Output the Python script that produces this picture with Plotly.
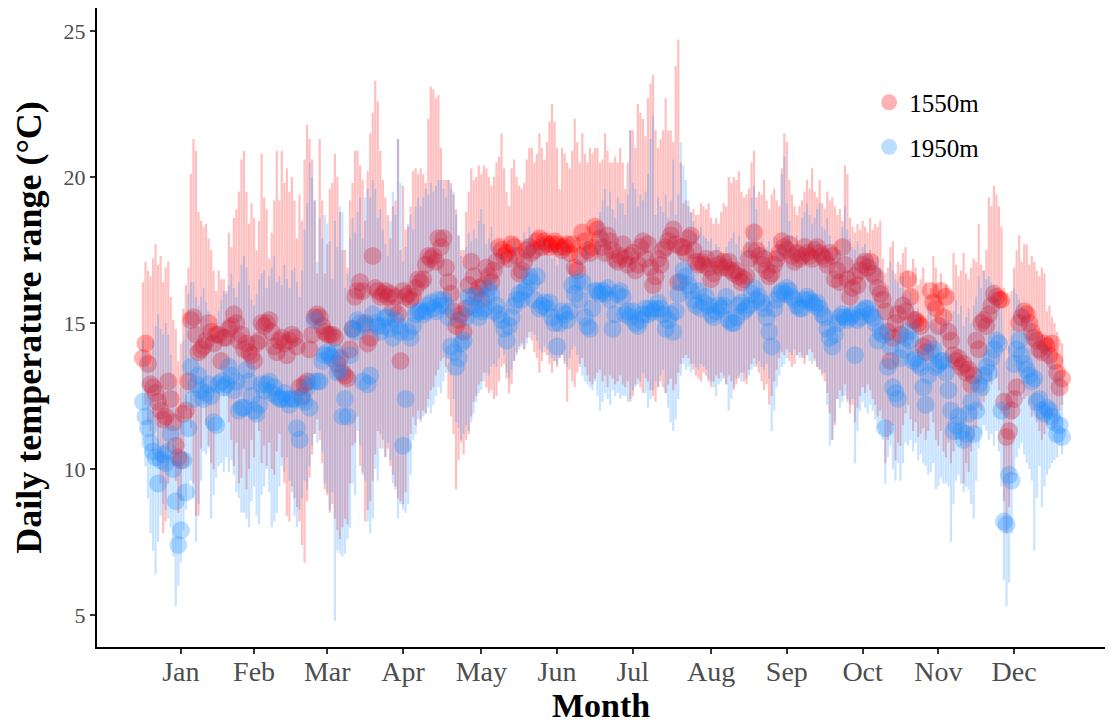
import plotly.graph_objects as go

# Month tick labels along the day-of-year axis
month_labels = ["Jan", "Feb", "Mar", "Apr", "May", "Jun",
                "Jul", "Aug", "Sep", "Oct", "Nov", "Dec"]
month_ticks = [16, 45, 74, 104, 135, 165, 195, 226, 256, 286, 316, 346]

# 1550 m station: daily mean temperature range and its lower / upper bounds
red_mean = [
    13.8, 14.3, 13.6, 12.9, 12.8, 12.6, 12.3, 12.0, 11.7, 11.8,
    13.0, 12.4, 11.6, 10.8, 10.4, 10.3, 11.9, 12.0, 13.0, 15.1,
    15.2, 14.6, 14.0, 14.1, 14.2, 14.4, 15.0, 14.7, 14.3, 14.6,
    14.6, 13.7, 14.5, 14.5, 14.8, 14.9, 15.3, 15.0, 14.4, 14.6,
    14.1, 14.3, 14.0, 13.9, 13.7, 14.3, 14.4, 15.0, 14.9, 15.0,
    15.1, 14.7, 14.2, 14.0, 14.4, 14.5, 14.3, 13.9, 14.4, 14.6,
    14.5, 14.2, 12.8, 12.5, 12.9, 13.0, 14.1, 14.6, 15.2, 15.3,
    15.2, 14.9, 14.7, 14.6, 14.6, 14.6, 14.5, 13.6, 13.8, 13.3,
    13.2, 13.1, 14.1, 14.8, 15.9, 16.1, 16.4, 16.1, 15.0, 14.3,
    14.5, 17.3, 16.2, 16.1, 15.9, 16.0, 16.1, 15.9, 16.0, 15.5,
    15.9, 15.3, 13.7, 16.1, 15.9, 16.0, 15.8, 15.9, 16.2, 16.5,
    16.4, 16.5, 17.0, 17.3, 17.2, 17.3, 17.1, 17.9, 17.6, 17.9,
    16.9, 16.4, 16.0, 15.4, 14.9, 15.1, 15.3, 14.7, 15.5, 16.3,
    17.1, 16.6, 16.0, 16.2, 15.8, 16.3, 16.9, 16.6, 16.4, 16.8,
    17.1, 17.6, 17.5, 17.3, 17.4, 17.2, 17.7, 17.6, 17.3, 16.7,
    16.8, 17.1, 17.5, 17.6, 17.4, 17.5, 17.8, 17.9, 17.6, 17.8,
    17.7, 17.6, 17.7, 17.8, 17.7, 17.6, 17.5, 17.6, 17.7, 17.4,
    17.7, 16.9, 16.8, 17.3, 18.1, 17.8, 17.5, 17.4, 17.6, 18.3,
    18.2, 17.9, 17.6, 17.4, 18.0, 17.8, 17.5, 17.2, 17.1, 17.3,
    17.7, 17.2, 17.0, 17.3, 17.4, 16.8, 17.0, 17.6, 17.8, 17.2,
    17.7, 16.9, 16.3, 16.6, 17.2, 17.0, 17.5, 17.6, 17.8, 18.0,
    18.2, 17.7, 16.4, 17.6, 17.6, 17.4, 17.9, 18.0, 17.5, 17.1,
    17.0, 17.1, 17.0, 17.2, 16.9, 16.5, 16.7, 17.2, 17.0, 16.9,
    17.1, 16.9, 17.1, 16.8, 16.7, 16.8, 16.6, 16.4, 16.5, 16.6,
    17.2, 17.5, 18.1, 17.5, 17.3, 17.0, 17.2, 16.8, 16.6, 16.7,
    17.0, 17.2, 17.4, 17.8, 17.6, 17.5, 17.7, 17.3, 17.1, 17.4,
    17.2, 17.3, 17.6, 17.4, 17.3, 17.2, 17.5, 17.6, 17.4, 17.3,
    17.2, 17.0, 17.4, 17.3, 16.5, 16.8, 16.4, 17.6, 17.0, 16.5,
    15.9, 16.2, 16.6, 16.3, 16.8, 17.0, 17.1, 16.9, 17.1, 16.7,
    16.6, 16.2, 16.0, 15.8, 15.4, 14.7, 13.7, 14.5, 15.0, 15.3,
    14.6, 15.6, 15.4, 16.5, 15.9, 15.1, 15.1, 15.0, 14.9, 14.2,
    14.0, 14.3, 16.1, 15.7, 15.5, 14.9, 16.1, 15.2, 15.9, 14.7,
    14.4, 13.9, 13.7, 13.8, 13.5, 13.6, 13.3, 13.4, 12.9, 13.2,
    14.4, 14.1, 15.0, 15.1, 14.9, 15.3, 15.6, 16.0, 15.9, 15.8,
    15.8, 12.3, 11.1, 11.3, 12.0, 12.4, 12.8, 15.0, 15.2, 15.4,
    15.3, 15.0, 14.7, 14.5, 14.4, 14.1, 14.0, 14.3, 14.2, 13.9,
    14.3, 13.7, 13.3, 12.8, 13.1,
]
red_low = [
    12.8, 12.2, 11.6, 11.3, 10.5, 11.8, 10.3, 9.5, 7.8, 8.2,
    9.5, 11.0, 10.1, 9.6, 8.5, 8.9, 10.7, 12.0, 12.6, 11.4,
    9.5, 8.4, 8.4, 10.7, 12.2, 11.5, 10.8, 10.2, 10.0, 11.8,
    11.8, 12.9, 12.5, 12.8, 11.6, 11.0, 10.1, 10.9, 9.5, 9.7,
    10.7, 9.3, 10.0, 11.0, 10.4, 11.7, 11.3, 10.2, 10.8, 10.1,
    10.9, 10.0, 9.8, 10.6, 11.2, 10.4, 9.5, 8.4, 8.2, 9.4,
    9.0, 8.7, 8.2, 7.4, 6.8, 8.9, 9.7, 10.5, 11.2, 11.7,
    11.0, 10.2, 9.3, 9.1, 8.5, 8.8, 8.3, 7.9, 7.6, 8.0,
    8.3, 8.1, 9.5, 10.8, 10.9, 11.8, 10.1, 9.8, 8.2, 8.6,
    8.9, 9.6, 10.5, 11.3, 10.7, 11.0, 10.4, 10.7, 10.1, 9.8,
    9.4, 9.0, 8.9, 8.8, 9.2, 10.6, 11.2, 11.8, 11.5, 12.0,
    11.7, 12.0, 11.9, 12.4, 12.7, 12.8, 13.2, 13.4, 13.7, 13.8,
    13.5, 12.4, 11.8, 11.2, 9.3, 10.3, 10.9, 10.5, 11.0, 11.2,
    11.8, 12.3, 12.5, 12.9, 13.0, 13.3, 12.8, 12.6, 12.7, 12.4,
    12.5, 13.0, 13.5, 13.6, 13.1, 12.6, 12.9, 13.7, 14.0, 14.2,
    14.3, 14.1, 14.5, 14.7, 14.4, 14.0, 13.8, 13.3, 13.7, 14.0,
    13.9, 13.6, 13.3, 13.7, 13.5, 13.8, 13.9, 13.6, 12.3, 13.4,
    13.0, 12.8, 13.3, 13.6, 13.8, 13.5, 13.2, 13.0, 12.9, 13.1,
    13.3, 13.4, 13.0, 13.2, 12.8, 13.2, 13.1, 12.9, 13.0, 13.2,
    12.9, 12.8, 13.0, 12.3, 12.5, 12.9, 13.1, 12.8, 12.6, 13.1,
    13.0, 12.7, 12.5, 12.3, 12.8, 13.0, 12.8, 12.6, 12.9, 13.1,
    12.7, 12.9, 13.3, 13.6, 13.8, 13.9, 13.8, 13.6, 13.4, 13.2,
    13.1, 13.0, 13.3, 13.2, 13.0, 12.8, 13.0, 13.2, 13.1, 13.3,
    13.1, 12.9, 13.2, 13.0, 12.7, 12.9, 13.1, 13.3, 13.0, 12.9,
    13.4, 13.6, 13.8, 13.5, 13.3, 13.0, 12.7, 12.9, 12.2, 12.5,
    13.0, 13.4, 13.8, 14.0, 13.9, 14.1, 13.7, 13.5, 13.6, 13.9,
    14.0, 13.8, 13.6, 13.9, 14.1, 14.0, 13.7, 13.5, 13.4, 13.2,
    13.0, 12.6, 11.9, 11.0, 11.5, 12.4, 12.7, 12.5, 12.9, 12.3,
    11.9, 12.2, 11.6, 12.1, 12.5, 12.8, 12.6, 12.9, 12.7, 12.4,
    12.2, 11.8, 12.0, 11.7, 10.2, 11.0, 11.2, 11.5, 10.3, 10.9,
    10.8, 11.5, 11.9, 12.2, 11.7, 11.3, 11.6, 11.1, 11.2, 11.4,
    11.0, 11.3, 12.0, 11.6, 11.0, 10.8, 11.3, 10.6, 10.4, 10.9,
    10.2, 10.6, 11.0, 11.3, 10.8, 9.5, 10.2, 9.9, 10.6, 11.0,
    11.4, 12.1, 12.0, 12.3, 12.5, 13.0, 12.9, 13.4, 13.1, 12.7,
    11.9, 8.9, 7.8, 8.7, 9.8, 11.7, 12.2, 12.6, 12.9, 12.4,
    12.5, 12.2, 11.8, 12.0, 11.6, 11.3, 11.0, 11.2, 11.5, 11.7,
    11.8, 11.4, 11.5, 12.0, 12.2,
]
red_high = [
    16.4, 17.1, 16.8, 16.6, 17.2, 17.7, 17.0, 17.3, 16.4, 16.9,
    17.1, 15.9, 15.1, 14.8, 13.7, 14.3, 15.5, 16.3, 16.9, 20.1,
    21.3, 20.9, 18.8, 18.5, 18.3, 18.4, 17.9, 17.5, 16.8, 16.1,
    16.8, 16.5, 16.5, 16.1, 18.1, 17.6, 18.6, 18.9, 19.5, 20.6,
    20.9, 19.5, 18.4, 19.1, 18.6, 17.5, 18.5, 20.8, 19.3, 18.9,
    17.2, 18.1, 19.2, 20.9, 19.2, 20.9, 19.8, 20.3, 19.5, 20.0,
    19.2, 17.9, 19.4, 18.5, 20.6, 21.8, 21.3, 20.6, 19.2, 16.7,
    21.3, 19.2, 16.7, 17.7, 19.6, 19.8, 20.8, 20.0, 18.8, 17.5,
    17.5, 16.9, 19.2, 19.8, 20.9, 20.9, 20.4, 19.9, 18.5, 20.2,
    21.5, 22.2, 23.3, 22.6, 20.9, 19.9, 19.3, 18.7, 17.9, 19.0,
    19.2, 21.3, 17.5, 19.7, 18.2, 18.3, 19.0, 20.2, 20.3, 20.1,
    20.3, 20.1, 19.8, 22.0, 23.1, 23.0, 22.7, 22.8, 21.0, 19.9,
    19.9, 19.9, 19.8, 19.4, 18.9, 18.0, 17.5, 17.5, 18.8, 19.5,
    20.3, 19.9, 20.0, 20.4, 20.1, 20.4, 20.3, 20.0, 19.7, 20.0,
    20.5, 20.7, 21.5, 20.3, 19.5, 19.0, 20.3, 20.6, 20.0, 19.7,
    19.6, 19.8, 20.6, 21.0, 21.0, 20.5, 20.8, 21.5, 21.0, 20.6,
    21.2, 21.9, 22.5, 21.9, 21.0, 19.6, 21.0, 20.8, 20.5, 20.3,
    20.9, 22.0, 21.2, 20.5, 21.5, 20.8, 20.5, 21.0, 20.8, 21.0,
    21.0, 20.5, 20.6, 21.5, 20.9, 20.5, 20.5, 20.7, 20.5, 21.0,
    20.5, 19.6, 20.5, 21.6, 21.6, 21.0, 22.5, 22.2, 22.0, 21.4,
    22.7, 23.2, 23.5, 21.6, 21.0, 21.3, 21.6, 22.7, 21.6, 21.6,
    21.2, 23.8, 24.7, 20.5, 19.1, 19.2, 19.0, 18.8, 18.9, 18.7,
    18.7, 19.1, 19.0, 18.9, 19.1, 18.6, 18.4, 18.6, 18.4, 18.8,
    19.1, 19.0, 20.0, 19.8, 20.0, 19.9, 20.2, 19.5, 19.3, 19.4,
    19.6, 20.5, 20.9, 19.3, 19.5, 19.4, 19.9, 19.2, 18.9, 19.4,
    19.6, 19.2, 19.0, 20.3, 21.5, 21.2, 19.9, 19.4, 19.0, 18.7,
    19.0, 19.2, 19.5, 19.9, 19.6, 20.3, 19.5, 19.3, 19.9, 19.1,
    18.9, 19.5, 19.2, 19.3, 19.0, 18.7, 18.9, 18.5, 20.4, 20.1,
    18.6, 18.3, 18.1, 18.4, 18.2, 18.5, 18.3, 18.1, 18.6, 18.2,
    18.4, 18.3, 18.5, 17.2, 16.7, 16.9, 17.6, 17.8, 16.7, 17.1,
    17.0, 17.4, 17.6, 16.8, 16.6, 17.2, 16.9, 16.3, 16.5, 16.9,
    16.4, 16.0, 16.2, 17.3, 16.9, 16.1, 16.7, 16.0, 16.3, 16.1,
    16.1, 17.4, 17.0, 16.6, 16.8, 17.4, 16.7, 16.5, 16.9, 17.2,
    17.1, 18.4, 17.0, 16.8, 17.5, 19.3, 19.0, 19.7, 19.4, 19.0,
    18.3, 16.2, 16.0, 15.8, 16.1, 16.9, 17.5, 18.0, 17.1, 17.7,
    17.7, 17.0, 17.3, 17.1, 16.8, 16.6, 16.9, 16.7, 15.4, 15.6,
    15.2, 15.0, 14.7, 14.1, 14.3,
]

# 1950 m station: daily mean temperature range and its lower / upper bounds
blue_mean = [
    12.3, 11.8, 11.4, 10.9, 10.6, 10.4, 9.5, 10.3, 10.5, 10.2,
    10.6, 11.2, 10.0, 8.9, 7.4, 7.9, 10.3, 9.2, 11.4, 13.5,
    12.4, 12.9, 13.2, 12.7, 12.4, 12.6, 12.9, 12.5, 11.6, 11.5,
    12.9, 13.0, 12.8, 12.9, 13.5, 13.2, 12.7, 13.0, 12.0, 12.1,
    12.1, 13.4, 13.0, 12.5, 12.0, 11.9, 12.2, 12.9, 12.7, 12.9,
    13.0, 12.6, 12.8, 12.5, 12.4, 12.4, 12.6, 12.4, 12.2, 12.4,
    12.4, 11.4, 11.0, 12.4, 12.3, 12.8, 12.1, 13.0, 15.1, 13.0,
    13.0, 13.7, 13.9, 14.0, 13.9, 13.8, 14.0, 13.3, 13.4, 11.8,
    12.4, 11.8, 13.9, 14.8, 14.7, 15.1, 15.0, 13.0, 14.9, 12.9,
    13.2, 15.3, 15.0, 14.9, 14.7, 14.9, 15.2, 15.2, 14.8, 14.5,
    15.1, 14.9, 14.7, 10.8, 12.4, 14.7, 14.5, 14.9, 15.3, 15.4,
    15.4, 15.3, 15.4, 15.6, 15.7, 15.5, 15.4, 15.8, 15.6, 15.8,
    15.6, 15.2, 14.2, 14.0, 13.5, 13.8, 14.3, 14.4, 15.2, 15.9,
    15.6, 15.9, 15.5, 15.2, 15.4, 15.5, 15.9, 16.2, 16.0, 15.4,
    15.6, 15.3, 15.1, 14.8, 14.4, 14.9, 15.2, 15.6, 15.8, 16.0,
    15.8, 16.1, 16.2, 16.6, 16.4, 15.8, 16.6, 15.5, 15.6, 15.7,
    15.5, 15.7, 15.2, 15.0, 14.2, 15.0, 15.4, 15.3, 15.1, 15.4,
    16.3, 16.0, 16.4, 15.8, 16.4, 15.2, 14.9, 14.8, 15.5, 16.1,
    16.1, 16.0, 16.1, 16.0, 16.2, 15.8, 14.8, 15.3, 16.0, 16.1,
    15.9, 15.3, 15.4, 15.2, 15.4, 15.0, 14.9, 15.1, 15.3, 15.5,
    15.3, 15.5, 15.4, 15.5, 15.7, 15.5, 15.3, 14.8, 15.1, 15.3,
    14.7, 15.4, 16.0, 16.4, 16.8, 16.6, 16.3, 16.1, 15.8, 15.6,
    16.1, 15.5, 15.7, 15.9, 15.6, 15.3, 15.2, 15.4, 15.6, 15.5,
    15.6, 15.9, 15.1, 15.0, 15.0, 15.2, 15.6, 15.7, 15.4, 15.5,
    15.6, 16.0, 16.2, 15.8, 15.9, 15.7, 15.5, 15.2, 14.7, 14.2,
    15.5, 15.8, 16.0, 16.1, 16.0, 16.2, 16.1, 15.9, 15.8, 15.6,
    15.5, 15.5, 15.8, 15.9, 15.8, 15.7, 15.6, 15.7, 15.5, 15.3,
    15.2, 14.8, 14.5, 14.2, 14.6, 15.0, 15.2, 15.3, 15.2, 15.1,
    15.2, 15.3, 13.9, 15.1, 15.2, 15.4, 15.5, 15.5, 15.3, 15.2,
    15.0, 14.4, 14.7, 14.6, 11.4, 13.5, 14.2, 12.8, 12.6, 12.4,
    13.8, 14.1, 14.5, 14.7, 14.4, 13.7, 13.8, 13.6, 13.5, 12.8,
    12.2, 13.2, 14.0, 14.1, 13.5, 13.6, 13.7, 13.7, 13.3, 12.7,
    12.0, 11.3, 11.5, 11.8, 11.3, 11.0, 11.2, 11.9, 12.3, 11.2,
    12.0, 12.9, 12.8, 13.2, 13.5, 13.3, 13.8, 14.1, 14.4, 14.3,
    12.0, 8.2, 8.1, 9.8, 9.6, 13.6, 14.1, 14.4, 13.9, 13.6,
    13.4, 13.2, 13.0, 13.1, 12.3, 12.4, 12.0, 11.9, 12.1, 12.0,
    11.8, 11.6, 11.2, 11.5, 11.1,
]
blue_low = [
    11.0, 10.1, 9.0, 7.8, 7.2, 6.4, 7.5, 8.4, 8.8, 8.6,
    8.3, 8.0, 7.0, 5.3, 6.0, 6.8, 7.9, 8.6, 9.5, 9.6,
    9.0, 7.5, 8.8, 9.6, 10.6, 10.5, 10.7, 8.3, 9.1, 9.7,
    10.1, 10.2, 9.9, 10.4, 9.9, 10.3, 9.8, 9.2, 9.0, 8.5,
    8.5, 8.3, 8.0, 8.9, 9.4, 8.4, 8.1, 9.1, 9.4, 10.0,
    9.2, 8.0, 8.2, 8.5, 9.4, 10.1, 9.9, 10.4, 9.6, 9.2,
    8.4, 8.0, 8.6, 9.0, 9.6, 9.3, 10.1, 10.8, 11.2, 10.9,
    11.3, 10.6, 9.5, 9.2, 8.6, 9.2, 4.8, 7.2, 7.1, 7.0,
    7.1, 7.6, 8.0, 9.5, 9.1, 11.3, 10.8, 9.9, 9.6, 8.2,
    7.8, 8.3, 10.0, 9.6, 11.2, 10.7, 10.4, 10.9, 10.3, 9.5,
    9.3, 8.3, 8.8, 8.6, 8.5, 8.8, 9.8, 11.0, 11.2, 11.7,
    11.6, 11.8, 11.9, 12.1, 11.9, 12.2, 12.5, 12.8, 12.6, 13.0,
    13.3, 13.8, 13.2, 12.4, 11.6, 11.4, 11.0, 11.2, 11.5, 11.3,
    11.6, 11.9, 12.3, 12.6, 12.7, 13.0, 13.3, 13.2, 13.5, 13.6,
    13.5, 13.8, 14.2, 13.9, 13.3, 13.1, 13.4, 13.7, 13.9, 14.1,
    14.2, 14.1, 14.3, 14.5, 14.7, 14.6, 14.4, 14.1, 14.0, 14.2,
    14.1, 13.9, 13.8, 13.7, 13.6, 13.8, 13.9, 13.7, 13.5, 13.8,
    14.1, 14.2, 13.9, 13.5, 13.2, 13.0, 12.9, 12.8, 12.7, 13.0,
    12.5, 12.0, 12.3, 12.6, 12.4, 12.2, 12.7, 12.5, 12.6, 12.4,
    12.5, 12.5, 12.3, 12.4, 12.7, 12.8, 12.9, 13.0, 13.3, 12.6,
    12.1, 12.4, 12.7, 13.0, 12.8, 13.2, 13.4, 12.6, 12.1, 11.6,
    11.3, 11.7, 12.4, 13.2, 13.6, 13.4, 13.5, 13.3, 13.6, 13.5,
    13.4, 13.6, 13.5, 13.4, 13.1, 13.0, 12.8, 12.5, 12.9, 13.0,
    13.2, 12.9, 12.0, 12.4, 12.8, 13.1, 13.2, 13.0, 13.3, 13.1,
    13.2, 13.4, 13.5, 13.6, 13.7, 13.5, 13.4, 13.6, 13.1, 11.3,
    12.0, 12.8, 13.2, 13.5, 13.6, 13.8, 14.0, 13.9, 14.1, 13.9,
    13.8, 13.9, 13.8, 13.9, 13.7, 13.6, 13.8, 13.5, 13.4, 13.3,
    13.3, 12.2, 10.8, 11.0, 11.6, 12.4, 12.1, 12.3, 12.5, 12.4,
    12.2, 12.4, 10.2, 11.3, 12.0, 12.3, 12.1, 11.9, 12.2, 12.0,
    11.7, 11.4, 11.2, 11.0, 9.5, 10.4, 10.8, 10.0, 9.6, 10.2,
    9.6, 10.2, 10.9, 10.8, 11.0, 10.6, 10.9, 10.3, 10.5, 10.2,
    10.1, 9.8, 9.9, 10.2, 9.3, 9.4, 9.7, 9.5, 9.5, 9.4,
    7.5, 8.8, 9.6, 9.8, 9.5, 9.2, 9.4, 9.3, 8.8, 8.3,
    9.6, 10.7, 11.2, 11.5, 11.3, 11.0, 11.2, 10.8, 11.3, 10.6,
    9.4, 6.2, 5.3, 6.1, 7.8, 9.8, 10.4, 10.7, 10.9, 10.5,
    10.2, 10.0, 9.6, 7.2, 9.0, 10.1, 8.7, 9.4, 9.8, 10.0,
    10.2, 10.3, 10.4, 10.8, 10.5,
]
blue_high = [
    14.4, 14.0, 13.6, 13.5, 14.4, 14.9, 15.3, 14.8, 14.6, 15.0,
    14.6, 13.9, 13.2, 12.9, 12.0, 12.8, 14.4, 15.1, 16.0, 16.4,
    16.4, 15.9, 15.6, 15.9, 16.2, 15.7, 15.4, 14.8, 14.6, 15.0,
    15.4, 15.8, 16.1, 16.0, 16.3, 16.7, 16.2, 15.9, 16.4, 17.0,
    17.3, 16.9, 16.3, 15.8, 15.6, 16.0, 16.5, 16.7, 16.8, 16.2,
    16.6, 16.9, 17.3, 16.4, 16.6, 16.3, 17.0, 16.5, 16.2, 16.8,
    16.9, 16.4, 15.9, 16.8, 18.2, 19.1, 20.5, 20.0, 19.2, 17.1,
    18.6, 17.9, 18.7, 18.4, 17.8, 16.5, 18.5, 17.6, 19.0, 18.8,
    16.2, 16.7, 17.9, 18.6, 18.1, 18.8, 19.3, 17.9, 19.3, 19.6,
    19.3, 19.9, 19.6, 18.6, 18.9, 18.2, 17.7, 17.3, 18.5, 19.5,
    18.7, 21.3, 19.8, 17.1, 17.6, 18.4, 18.7, 18.2, 19.0, 19.3,
    19.0, 19.3, 19.6, 19.4, 19.8, 19.5, 19.7, 19.9, 19.9, 19.6,
    19.3, 19.9, 19.6, 19.5, 18.7, 18.0, 17.3, 17.0, 17.6, 18.1,
    17.8, 18.2, 17.9, 18.5, 18.9, 18.4, 17.7, 17.9, 18.3, 17.6,
    17.7, 17.4, 17.3, 17.5, 17.0, 17.4, 17.2, 17.8, 17.6, 17.1,
    17.5, 18.1, 17.9, 18.3, 18.0, 17.6, 17.7, 17.5, 17.9, 17.4,
    17.8, 17.3, 17.2, 17.6, 17.0, 17.5, 17.3, 17.7, 17.2, 17.4,
    17.0, 16.8, 17.3, 17.5, 17.2, 17.6, 17.8, 17.4, 17.2, 17.7,
    18.4, 18.8, 19.2, 19.6, 19.0, 19.5, 18.9, 18.6, 19.3, 19.1,
    19.1, 18.7, 19.4, 21.6, 19.8, 19.6, 19.0, 19.4, 19.2, 19.5,
    20.1, 21.3, 22.1, 18.7, 19.3, 19.0, 18.8, 19.4, 18.6, 19.2,
    20.6, 18.7, 19.4, 21.2, 20.4, 19.9, 19.2, 18.8, 18.5, 18.1,
    18.0, 18.3, 18.0, 17.9, 17.8, 17.9, 17.5, 17.7, 17.6, 17.4,
    17.3, 17.6, 17.8, 17.9, 18.1, 17.7, 18.0, 17.5, 17.4, 17.8,
    18.2, 19.3, 19.7, 18.9, 17.6, 17.9, 17.5, 17.6, 17.8, 17.2,
    17.4, 17.9, 17.7, 20.1, 20.7, 19.1, 18.5, 18.0, 17.6, 18.0,
    17.7, 18.6, 18.8, 19.1, 18.7, 18.4, 18.6, 18.9, 19.1, 18.3,
    18.2, 18.6, 18.0, 17.7, 17.4, 17.8, 17.5, 18.3, 19.0, 18.2,
    17.9, 17.6, 17.5, 17.8, 17.4, 17.6, 17.7, 17.3, 17.5, 17.2,
    17.1, 17.3, 16.9, 16.6, 16.1, 16.3, 17.1, 16.8, 16.5, 16.4,
    16.2, 16.6, 16.0, 15.8, 16.1, 15.7, 15.4, 15.5, 15.0, 14.7,
    14.9, 15.3, 15.6, 15.0, 15.2, 14.8, 15.2, 15.0, 15.4, 15.1,
    15.0, 15.4, 15.8, 15.3, 15.6, 14.9, 15.2, 15.5, 15.0, 15.6,
    15.9, 16.6, 16.2, 16.8, 16.5, 16.6, 16.4, 16.3, 16.2, 15.9,
    15.5, 14.1, 13.5, 14.2, 14.8, 16.2, 16.0, 15.8, 15.6, 15.4,
    15.5, 15.2, 15.0, 14.8, 14.7, 14.5, 14.6, 14.3, 14.2, 14.1,
    13.9, 13.6, 13.3, 13.4, 13.2,
]

FONT = "Liberation Serif"


def station_trace(name, mean, low, high, dot_color, bar_color, group):
    days = list(range(1, len(mean) + 1))
    return go.Scatter(
        x=days,
        y=mean,
        mode="markers",
        name=name,
        legendgroup=group,
        marker=dict(size=18, color=dot_color, line=dict(width=0)),
        error_y=dict(
            type="data",
            symmetric=False,
            array=[h - m for h, m in zip(high, mean)],
            arrayminus=[m - l for m, l in zip(mean, low)],
            color=bar_color,
            thickness=2.2,
            width=0,
        ),
        hoverinfo="skip",
    )


fig = go.Figure()
fig.add_trace(station_trace("1550m", red_mean, red_low, red_high,
                            "rgba(255,0,0,0.3)", "rgba(255,0,0,0.25)", "a"))
fig.add_trace(station_trace("1950m", blue_mean, blue_low, blue_high,
                            "rgba(30,144,255,0.3)", "rgba(30,144,255,0.25)", "b"))

axis_common = dict(
    showgrid=False,
    zeroline=False,
    showline=True,
    linecolor="black",
    linewidth=2,
    ticks="outside",
    ticklen=5,
    tickwidth=2,
    tickcolor="#333333",
)

fig.update_layout(
    width=1109,
    height=724,
    margin=dict(l=97, r=4, t=8, b=77, autoexpand=False),
    paper_bgcolor="white",
    plot_bgcolor="white",
    font=dict(family=FONT, color="black"),
    showlegend=True,
    legend=dict(
        x=0.766, y=0.888, xanchor="left", yanchor="top",
        font=dict(family=FONT, size=25, color="black"),
        bgcolor="rgba(0,0,0,0)",
        traceorder="grouped",
        tracegroupgap=9,
    ),
    xaxis=dict(
        **axis_common,
        range=[-17.2, 382],
        tickmode="array",
        tickvals=month_ticks,
        ticktext=month_labels,
        ticklabelstandoff=-7,
        tickfont=dict(family=FONT, size=28, color="#4d4d4d"),
        title=dict(text="Month", standoff=4,
                   font=dict(family=FONT, size=34, color="black", weight="bold")),
    ),
    yaxis=dict(
        **axis_common,
        range=[3.904, 25.79],
        tickmode="array",
        tickvals=[5, 10, 15, 20, 25],
        tickfont=dict(family=FONT, size=22, color="#4d4d4d"),
        title=dict(text="Daily temperature range (°C)", standoff=11,
                   font=dict(family=FONT, size=36, color="black", weight="bold")),
    ),
)

fig.write_html("out.html")
